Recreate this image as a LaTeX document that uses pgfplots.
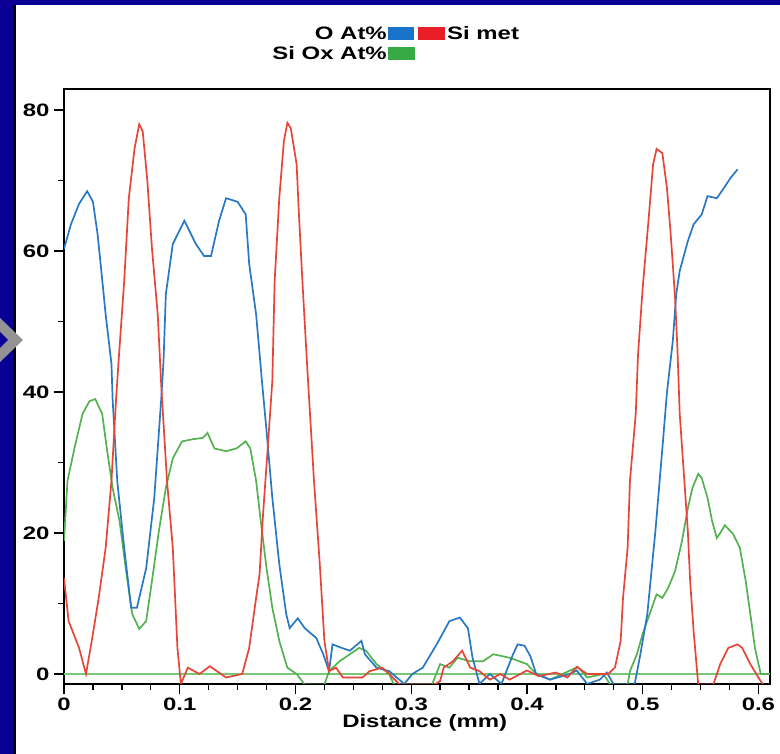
\documentclass[border=0pt]{standalone}
\usepackage{fontspec}
\setmainfont{Liberation Sans}[FakeStretch=1.33]
\usepackage{pgfplots}
\pgfplotsset{compat=1.18}
\definecolor{bgblue}{RGB}{10,0,150}
\definecolor{cblue}{RGB}{40,120,195}
\definecolor{cred}{RGB}{230,70,55}
\definecolor{cgreen}{RGB}{85,178,80}
\definecolor{cbase}{RGB}{120,200,120}
\definecolor{lblue}{RGB}{25,115,200}
\definecolor{lred}{RGB}{232,30,40}
\definecolor{lgreen}{RGB}{55,170,70}
\newcommand\lf{\fontsize{18}{20}\selectfont\bfseries}
\begin{document}
\begin{tikzpicture}[x=1pt,y=1pt]
\useasboundingbox (0,0) rectangle (780,754);
\fill[bgblue] (0,0) rectangle (780,754);
\fill[white] (16,0) rectangle (780,749);
\fill[black] (13,0) rectangle (16,749);
\fill[gray!85] (0,436) -- (23,414) -- (0,392) -- cycle;
\fill[bgblue] (0,422) -- (8,414) -- (0,406) -- cycle;
\begin{axis}[
  at={(64pt,70pt)}, anchor=south west,
  scale only axis, width=706pt, height=595pt,
  xmin=0, xmax=0.61, ymin=-1.42, ymax=83,
  xtick={0,0.1,0.2,0.3,0.4,0.5,0.6},
  ytick={0,20,40,60,80},
  minor x tick num=3, minor y tick num=1,
  tick align=outside, tick pos=left,
  major tick length=10pt, minor tick length=6pt,
  axis line style={line width=1.3pt},
  every tick/.style={black, line width=1.3pt},
  tick label style={font=\lf},
  yticklabel style={xshift=-1pt},
  /pgf/number format/assume math mode=true,
  xticklabel style={/pgf/number format/fixed, /pgf/number format/precision=1},
  xlabel={Distance (mm)},
  xlabel style={font=\lf, at={(axis description cs:0.511,0)}, anchor=base, yshift=-44pt},
]
\addplot[cbase, line width=1.2pt] coordinates {(0,0) (0.61,0)};
\addplot[cgreen, line width=1.7pt] coordinates {
(0,18.9) (0.003,27.4) (0.009,32) (0.016,36.9) (0.022,38.7) (0.027,39) (0.033,36.9) (0.037,32) (0.042,26.4) (0.048,21.7) (0.054,14.2) (0.059,8.5) (0.065,6.4) (0.071,7.5) (0.076,13.2) (0.082,20.3) (0.088,26.4) (0.094,30.6) (0.102,33) (0.111,33.3) (0.120,33.5) (0.124,34.2) (0.130,32) (0.140,31.6) (0.149,32) (0.157,33) (0.161,32) (0.166,27.4) (0.170,21.7) (0.175,15) (0.180,9.4) (0.186,4.7) (0.193,0.9) (0.201,0) (0.208,-1.5) (0.225,-1.5) (0.229,0.4) (0.238,1.8) (0.247,2.8) (0.255,3.7) (0.261,3.3) (0.270,1.4) (0.281,0) (0.285,-1.5) (0.318,-1.5) (0.325,1.4) (0.333,0.9) (0.340,2.3) (0.351,1.8) (0.362,1.8) (0.371,2.8) (0.385,2.3) (0.400,1.4) (0.408,0) (0.420,-0.8) (0.444,1) (0.452,-0.5) (0.466,0) (0.472,-1.5) (0.487,-1.5) (0.489,0.4) (0.495,2.8) (0.500,5.7) (0.506,8.5) (0.512,11.3) (0.517,10.8) (0.522,12.2) (0.528,14.6) (0.534,18.9) (0.539,23.5) (0.543,26.4) (0.548,28.4) (0.551,27.8) (0.556,25) (0.560,21.7) (0.564,19.3) (0.567,20) (0.571,21.1) (0.578,19.9) (0.584,17.9) (0.589,13.2) (0.593,8.5) (0.597,3.7) (0.602,0) (0.610,0)};
\addplot[cblue, line width=1.7pt] coordinates {
(0,60.3) (0.006,63.8) (0.013,66.7) (0.020,68.5) (0.025,67) (0.029,62.4) (0.032,57.6) (0.036,51) (0.041,44) (0.042,39) (0.046,27.4) (0.052,17.9) (0.058,9.4) (0.063,9.4) (0.071,15) (0.078,25) (0.084,39) (0.086,44.4) (0.088,53.9) (0.094,61) (0.104,64.3) (0.114,61) (0.121,59.3) (0.127,59.3) (0.134,64.3) (0.140,67.5) (0.150,67) (0.157,65.2) (0.160,58.2) (0.166,51) (0.169,45.4) (0.171,41.6) (0.175,34.5) (0.180,25) (0.186,15.6) (0.192,8.5) (0.195,6.5) (0.202,7.9) (0.208,6.5) (0.218,5.1) (0.224,2.8) (0.229,0.4) (0.232,4.2) (0.240,3.7) (0.247,3.3) (0.257,4.7) (0.260,2.8) (0.270,0.9) (0.281,0.4) (0.294,-1.4) (0.301,0) (0.310,0.9) (0.322,4.2) (0.333,7.5) (0.342,8) (0.349,6.5) (0.353,2.3) (0.359,-1.4) (0.368,0) (0.378,-1.4) (0.388,2.8) (0.392,4.2) (0.398,4) (0.403,2.5) (0.408,0) (0.420,-0.8) (0.437,0) (0.443,0.5) (0.452,-1.4) (0.463,-0.8) (0.469,0.2) (0.475,-1.5) (0.493,-1.5) (0.498,2.8) (0.504,8.5) (0.511,20.3) (0.517,32) (0.521,40) (0.526,47.2) (0.529,53.9) (0.532,57.2) (0.539,61.4) (0.544,63.8) (0.551,65.2) (0.556,67.8) (0.564,67.5) (0.570,68.9) (0.576,70.4) (0.582,71.6)};
\addplot[cred, line width=1.7pt] coordinates {
(0,13.6) (0.004,7.5) (0.013,3.7) (0.019,0) (0.024,4.7) (0.030,10.8) (0.036,17.9) (0.041,27.4) (0.045,39) (0.047,44) (0.052,55.7) (0.056,67.5) (0.061,74.6) (0.065,78) (0.068,77) (0.072,70) (0.076,60.4) (0.081,51) (0.084,41) (0.089,27.4) (0.094,17.9) (0.098,3.7) (0.101,-1.4) (0.107,0.9) (0.117,0) (0.126,1.1) (0.140,-0.5) (0.154,0) (0.160,3.7) (0.166,10.8) (0.169,14.2) (0.172,22.7) (0.176,32) (0.180,41.6) (0.182,55.7) (0.186,67.5) (0.190,75.6) (0.193,78.2) (0.196,77.4) (0.201,72.3) (0.203,65.2) (0.206,55.7) (0.210,44) (0.216,27.4) (0.221,15.6) (0.225,4.7) (0.229,0.4) (0.235,0.9) (0.241,-0.5) (0.258,-0.5) (0.264,0.4) (0.275,0.9) (0.281,0) (0.29,-1.5) (0.32,-1.5) (0.325,-1) (0.328,0.9) (0.336,1.8) (0.344,3.3) (0.351,0.9) (0.359,0.4) (0.368,-0.8) (0.377,0) (0.385,-0.8) (0.40,0.5) (0.41,-0.3) (0.425,0.2) (0.435,-0.5) (0.443,1) (0.452,0) (0.47,0) (0.476,0.9) (0.481,4.7) (0.483,10.8) (0.487,17.9) (0.489,27.4) (0.494,36.9) (0.496,45.4) (0.500,54.8) (0.505,64.3) (0.509,72.3) (0.512,74.5) (0.517,73.9) (0.521,68.9) (0.524,62.8) (0.526,58.2) (0.528,53.3) (0.530,46.2) (0.532,36.9) (0.535,29.8) (0.539,20.3) (0.541,13.2) (0.544,6.1) (0.547,0.4) (0.548,-1.5) (0.561,-1.5) (0.567,1.4) (0.574,3.7) (0.582,4.2) (0.586,3.7) (0.593,1.4) (0.600,-0.5) (0.604,-1.5)};
\end{axis}
\node[font=\lf, anchor=base east, inner sep=0] at (387,714) {O At\%};
\fill[lblue] (388,714) rectangle (414,727);
\fill[lred] (418,714) rectangle (445,727);
\node[font=\lf, anchor=base west, inner sep=0] at (447,714) {Si met};
\node[font=\lf, anchor=base east, inner sep=0] at (387,694) {Si Ox At\%};
\fill[lgreen] (388,694) rectangle (415,707);
\end{tikzpicture}
\end{document}
